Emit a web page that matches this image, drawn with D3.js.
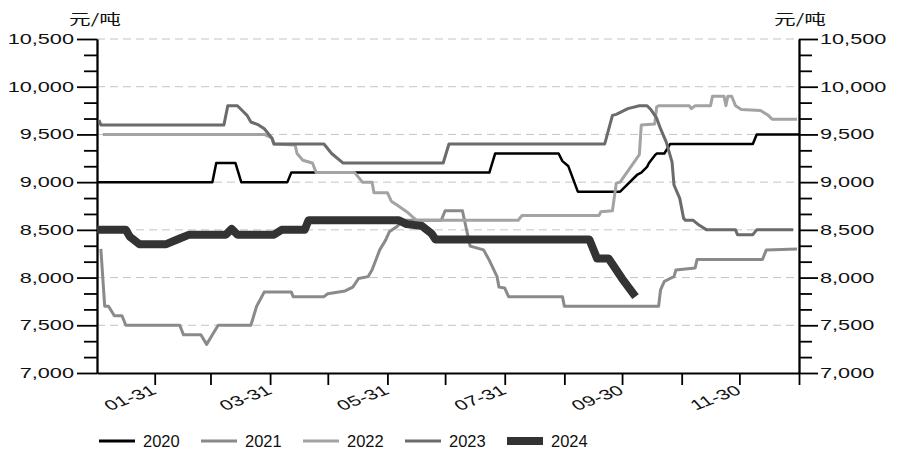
<!DOCTYPE html>
<html><head><meta charset="utf-8">
<script src="https://cdn.jsdelivr.net/npm/d3@7/dist/d3.min.js"></script>
<style>body{margin:0;background:#fff}</style>
</head><body><svg id="c" width="900" height="459"></svg>
<script>
// ---- data ----
const years = ["2020", "2021", "2022", "2023", "2024"];
const s2020 = [["01-01",9000],["03-01",9000],["03-03",9200],["03-13",9200],["03-16",9000],["04-09",9000],["04-11",9100],
  ["07-23",9100],["07-26",9300],["08-28",9300],["08-30",9220],["09-02",9170],["09-07",8900],["09-29",8900],["10-08",9080],
  ["10-10",9100],["10-13",9160],["10-14",9200],["10-17",9280],["10-18",9300],["10-22",9300],["10-25",9400],["12-07",9400],
  ["12-09",9500],["12-31",9500]];
const s2021 = [["01-03",8300],["01-05",7700],["01-07",7700],["01-10",7600],["01-14",7600],["01-16",7500],["02-13",7500],
  ["02-15",7400],["02-24",7400],["02-27",7300],["03-01",7400],["03-04",7500],["03-21",7500],["03-24",7700],["03-28",7850],
  ["04-11",7850],["04-12",7800],["04-28",7800],["04-30",7830],["05-09",7860],["05-13",7900],["05-16",7990],["05-21",8010],
  ["05-23",8080],["05-27",8290],["05-30",8390],["06-01",8480],["06-05",8535],["06-08",8600],["06-28",8600],["06-30",8700],
  ["07-09",8700],["07-13",8330],["07-20",8290],["07-23",8180],["07-27",8010],["07-28",7900],["07-31",7890],["08-02",7800],
  ["08-30",7800],["08-31",7700],["10-19",7700],["10-20",7870],["10-22",7960],["10-25",7990],["10-27",8010],["10-28",8080],
  ["11-07",8100],["11-08",8190],["12-12",8190],["12-14",8290],["12-30",8300]];
const s2022 = [["01-04",9500],["03-28",9500],["04-01",9460],["04-02",9400],["04-13",9390],["04-14",9300],["04-17",9230],
  ["04-22",9200],["04-24",9100],["05-14",9100],["05-18",9000],["05-23",9000],["05-24",8890],["05-31",8890],["06-02",8800],
  ["06-05",8760],["06-10",8690],["06-14",8620],["06-15",8600],["08-07",8600],["08-09",8650],["09-18",8650],["09-19",8690],
  ["09-25",8700],["09-27",8990],["09-29",9000],["10-07",9230],["10-09",9290],["10-10",9600],["10-17",9610],["10-18",9790],
  ["10-19",9800],["11-04",9800],["11-05",9770],["11-07",9800],["11-15",9800],["11-16",9900],["11-22",9900],["11-23",9800],
  ["11-24",9900],["11-26",9900],["11-28",9800],["12-01",9760],["12-11",9750],["12-15",9700],["12-17",9660],["12-30",9660]];
const s2023 = [["01-02",9650],["01-03",9600],["03-07",9600],["03-09",9800],["03-14",9800],["03-17",9740],["03-19",9700],
  ["03-21",9630],["03-25",9600],["03-28",9560],["04-01",9460],["04-02",9400],["04-28",9400],["05-02",9300],["05-08",9200],
  ["06-29",9200],["07-02",9400],["09-21",9400],["09-25",9700],["09-27",9710],["10-03",9770],["10-09",9800],["10-13",9800],
  ["10-15",9760],["10-18",9670],["10-20",9560],["10-23",9420],["10-26",9210],["10-27",8970],["10-30",8830],["11-01",8620],
  ["11-02",8600],["11-06",8600],["11-09",8550],["11-13",8500],["11-28",8500],["11-29",8450],["12-07",8450],["12-09",8500],
  ["12-28",8500]];
const s2024 = [["01-01",8500],["01-16",8500],["01-18",8430],["01-23",8350],["02-06",8350],["02-13",8410],["02-18",8450],
  ["03-08",8450],["03-11",8510],["03-14",8450],["04-02",8450],["04-06",8500],["04-18",8500],["04-20",8600],["06-06",8600],
  ["06-10",8560],["06-18",8540],["06-23",8460],["06-25",8400],["09-13",8400],["09-17",8200],["09-23",8200],["09-26",8110],
  ["09-30",7990],["10-07",7800]];
const seriesValues = [s2020, s2021, s2022, s2023, s2024];
const xTickDates = ["01-31","02-29","03-31","04-30","05-31","06-30","07-31","08-31","09-30","10-31","11-30","12-31"];
const xTickLabels = ["01-31","03-31","05-31","07-31","09-30","11-30"];
const yLabelValues = [7000, 7500, 8000, 8500, 9000, 9500, 10000, 10500];
const unitLabel = "元/吨";

// ---- styles ----
const colors = ["#000000", "#8a8a8a", "#a3a3a3", "#6b6b6b", "#333333"];
const widths = [2.5, 3, 3, 3, 8];
const FONT = "'Liberation Sans', Arial, sans-serif";
const STRETCH = 1.55;

const parse = d3.timeParse("%Y-%m-%d");
const toDate = s => parse("2024-" + s);

const svg = d3.select("#c");
const L = 97, R = 799, T = 39, B = 373;
const x = d3.scaleTime().domain([toDate("01-01"), toDate("12-31")]).range([L, R]);
const y = d3.scaleLinear().domain([7000, 10500]).range([B, T]);

// grid
svg.append("g").selectAll("line").data(yLabelValues.filter(v => v > 7000)).join("line")
  .attr("x1", L).attr("x2", R).attr("y1", d => y(d)).attr("y2", d => y(d))
  .attr("stroke", "#c4c4c4").attr("stroke-width", 1).attr("stroke-dasharray", "8,5");

// minor ticks every 500/3
const minor = d3.range(0, 22).map(i => 7000 + i * 500 / 3).filter(v => !yLabelValues.some(m => Math.abs(m - v) < 1));

function styleAxis(g) {
  g.selectAll("path,line").attr("stroke", "#000").attr("stroke-width", 1.8);
}
svg.append("g").attr("transform", `translate(${L},0)`)
  .call(d3.axisLeft(y).tickValues(minor).tickSize(13).tickSizeOuter(0).tickFormat(""))
  .call(styleAxis);
svg.append("g").attr("transform", `translate(${L},0)`)
  .call(d3.axisLeft(y).tickValues(yLabelValues).tickSize(20).tickSizeOuter(0).tickFormat(""))
  .call(styleAxis);
svg.append("g").attr("transform", `translate(${R},0)`)
  .call(d3.axisRight(y).tickValues(minor).tickSize(13).tickSizeOuter(0).tickFormat(""))
  .call(styleAxis);
svg.append("g").attr("transform", `translate(${R},0)`)
  .call(d3.axisRight(y).tickValues(yLabelValues).tickSize(19).tickSizeOuter(0).tickFormat(""))
  .call(styleAxis);
svg.append("g").attr("transform", `translate(0,${B})`)
  .call(d3.axisBottom(x).tickValues(xTickDates.map(toDate)).tickSize(12).tickSizeOuter(0).tickFormat(""))
  .call(styleAxis);

const fmt = d3.format(",");
// left labels
svg.append("g").selectAll("text").data(yLabelValues).join("text")
  .attr("transform", d => `translate(74,${y(d)}) scale(${STRETCH},1)`)
  .attr("text-anchor", "end").attr("dy", "0.36em")
  .style("font-family", FONT).style("font-size", "14px").attr("fill", "#111")
  .text(d => fmt(d));
// right labels
svg.append("g").selectAll("text").data(yLabelValues).join("text")
  .attr("transform", d => `translate(820,${y(d)}) scale(${STRETCH},1)`)
  .attr("text-anchor", "start").attr("dy", "0.36em")
  .style("font-family", FONT).style("font-size", "14px").attr("fill", "#111")
  .text(d => fmt(d));
// x labels
svg.append("g").selectAll("text").data(xTickLabels).join("text")
  .attr("transform", d => `translate(${x(toDate(d)) + 3},393) scale(${STRETCH},1) rotate(-30)`)
  .attr("text-anchor", "end")
  .style("font-family", FONT).style("font-size", "14px").attr("fill", "#111")
  .text(d => d);
// unit labels
[95, 800].forEach(cx => {
  svg.append("text").attr("transform", `translate(${cx},24) scale(${STRETCH},1)`)
    .attr("text-anchor", "middle")
    .style("font-family", "'Noto Sans CJK SC', sans-serif").style("font-size", "14px").attr("fill", "#111")
    .text(unitLabel);
});

// lines
const line = d3.line().x(d => x(toDate(d[0]))).y(d => y(d[1]));
seriesValues.forEach((s, i) => {
  svg.append("path").datum(s).attr("d", line)
    .attr("fill", "none").attr("stroke", colors[i]).attr("stroke-width", widths[i])
    .attr("stroke-linejoin", "round");
});

// legend
const lg = svg.append("g");
years.forEach((yr, i) => {
  const lx = 99 + i * 102;
  lg.append("line").attr("x1", lx).attr("x2", lx + 36).attr("y1", 441).attr("y2", 441)
    .attr("stroke", colors[i]).attr("stroke-width", i === 4 ? 8 : 3);
  lg.append("text").attr("x", lx + 44).attr("y", 441).attr("dy", "0.36em")
    .style("font-family", FONT).style("font-size", "16.5px").attr("fill", "#111").text(yr);
});
</script></body></html>
